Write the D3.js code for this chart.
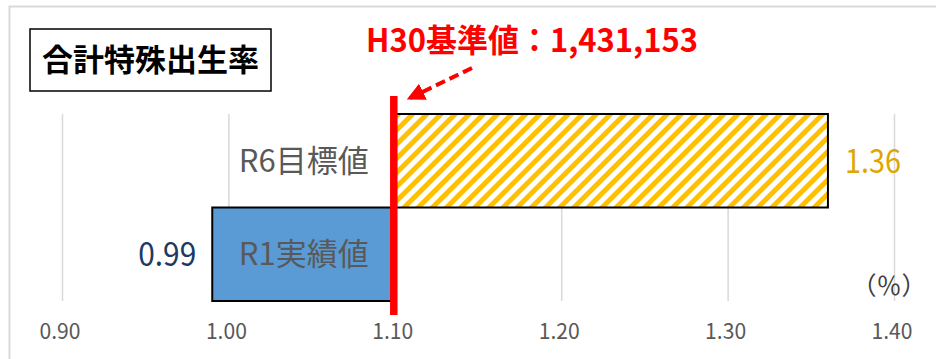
<!DOCTYPE html>
<html lang="ja">
<meta charset="utf-8">
<script src="https://cdn.jsdelivr.net/npm/d3@7"></script>
<style>
  body { margin: 0; background: #fff; }
  svg { display: block; font-family: "Noto Sans CJK JP", "Noto Sans", sans-serif; }
</style>
<body>
<svg id="chart" width="936" height="359"></svg>
<script>
// data
var categories = ["R6目標値", "R1実績値"];
var values = [1.36, 0.99];
var baseline = 1.10;
var tickValues = [0.90, 1.00, 1.10, 1.20, 1.30, 1.40];
var chartTitle = "合計特殊出生率";
var baseLabel = "H30基準値：1,431,153";
var unitLabel = "（％）";

var svg = d3.select("#chart");

var x = d3.scaleLinear().domain([0.90, 1.40]).range([62.5, 894.5]);
var y = d3.scaleBand().domain(categories).range([114, 301]).padding(0);

// hatch pattern for target bar
var defs = svg.append("defs");
var pat = defs.append("pattern")
    .attr("id", "hatch")
    .attr("patternUnits", "userSpaceOnUse")
    .attr("width", 10).attr("height", 10)
    .attr("patternTransform", "rotate(45)");
pat.append("rect").attr("width", 10).attr("height", 10).attr("fill", "#fff");
pat.append("rect").attr("width", 5).attr("height", 10).attr("fill", "#FFC000");

// outer frame
svg.append("rect")
    .attr("x", 9.5).attr("y", 6.5)
    .attr("width", 960).attr("height", 400)
    .attr("fill", "none").attr("stroke", "#d9d9d9").attr("stroke-width", 2);

// grid lines
svg.append("g").selectAll("line")
    .data(tickValues)
    .enter().append("line")
    .attr("x1", d => x(d)).attr("x2", d => x(d))
    .attr("y1", y.range()[0]).attr("y2", y.range()[1])
    .attr("stroke", "#d9d9d9").attr("stroke-width", 1.5);

// tick labels
svg.append("g").selectAll("text")
    .data(tickValues)
    .enter().append("text")
    .attr("x", d => x(d) - 2.5)
    .attr("y", 339)
    .attr("text-anchor", "middle")
    .attr("font-size", 22)
    .attr("textLength", 41)
    .attr("lengthAdjust", "spacingAndGlyphs")
    .attr("fill", "#595959")
    .text(d => d3.format(".2f")(d));

// bars from baseline
svg.append("g").selectAll("rect")
    .data(values)
    .enter().append("rect")
    .attr("x", d => x(Math.min(d, baseline)))
    .attr("width", d => Math.abs(x(d) - x(baseline)))
    .attr("y", (d, i) => y(categories[i]))
    .attr("height", y.bandwidth())
    .attr("fill", (d, i) => i == 0 ? "url(#hatch)" : "#5B9BD5")
    .attr("stroke", "#000")
    .attr("stroke-width", 2);

// category labels, centred on the R1 bar
var labelX = (x(values[1]) + x(baseline)) / 2;
svg.append("g").selectAll("text")
    .data(categories)
    .enter().append("text")
    .attr("x", labelX)
    .attr("y", d => y(d) + y.bandwidth() / 2 + 11)
    .attr("text-anchor", "middle")
    .attr("font-size", 31)
    .attr("fill", "#595959")
    .text(d => d);

// value labels
svg.append("text")
    .attr("x", x(values[0]) + 17)
    .attr("y", y(categories[0]) + y.bandwidth() / 2 + 12)
    .attr("font-size", 32)
    .attr("textLength", 56)
    .attr("lengthAdjust", "spacingAndGlyphs")
    .attr("fill", "#E0A500")
    .text(d3.format(".2f")(values[0]));

svg.append("text")
    .attr("x", x(values[1]) - 16)
    .attr("y", y(categories[1]) + y.bandwidth() / 2 + 12)
    .attr("text-anchor", "end")
    .attr("font-size", 32)
    .attr("textLength", 58)
    .attr("lengthAdjust", "spacingAndGlyphs")
    .attr("fill", "#203864")
    .text(d3.format(".2f")(values[1]));

// unit
svg.append("text")
    .attr("x", 889).attr("y", 295)
    .attr("text-anchor", "middle")
    .attr("font-size", 25)
    .attr("fill", "#404040")
    .text(unitLabel);

// baseline marker
svg.append("line")
    .attr("x1", x(baseline) - 1.5).attr("x2", x(baseline) - 1.5)
    .attr("y1", 96).attr("y2", 315)
    .attr("stroke", "#FF0000").attr("stroke-width", 7.5);

// title box
svg.append("rect")
    .attr("x", 30).attr("y", 29)
    .attr("width", 241).attr("height", 62)
    .attr("fill", "#fff").attr("stroke", "#000").attr("stroke-width", 1.5);
svg.append("text")
    .attr("x", 150.5).attr("y", 71)
    .attr("text-anchor", "middle")
    .attr("font-size", 31)
    .attr("font-weight", "bold")
    .attr("fill", "#000")
    .text(chartTitle);

// baseline label and arrow
svg.append("text")
    .attr("x", 366).attr("y", 52)
    .attr("font-size", 32)
    .attr("font-weight", "bold")
    .attr("textLength", 332)
    .attr("lengthAdjust", "spacingAndGlyphs")
    .attr("fill", "#FF0000")
    .text(baseLabel);

defs.append("marker")
    .attr("id", "arrow")
    .attr("viewBox", "0 0 10 10")
    .attr("refX", 8).attr("refY", 5)
    .attr("markerWidth", 4.5).attr("markerHeight", 4.5)
    .attr("markerUnits", "strokeWidth")
    .attr("orient", "auto")
    .append("path").attr("d", "M0,0 L10,5 L0,10 Z").attr("fill", "#FF0000");

svg.append("line")
    .attr("x1", 472).attr("y1", 68)
    .attr("x2", 410).attr("y2", 98)
    .attr("stroke", "#FF0000").attr("stroke-width", 4)
    .attr("stroke-dasharray", "10,5")
    .attr("marker-end", "url(#arrow)");
</script>
</body>
</html>
